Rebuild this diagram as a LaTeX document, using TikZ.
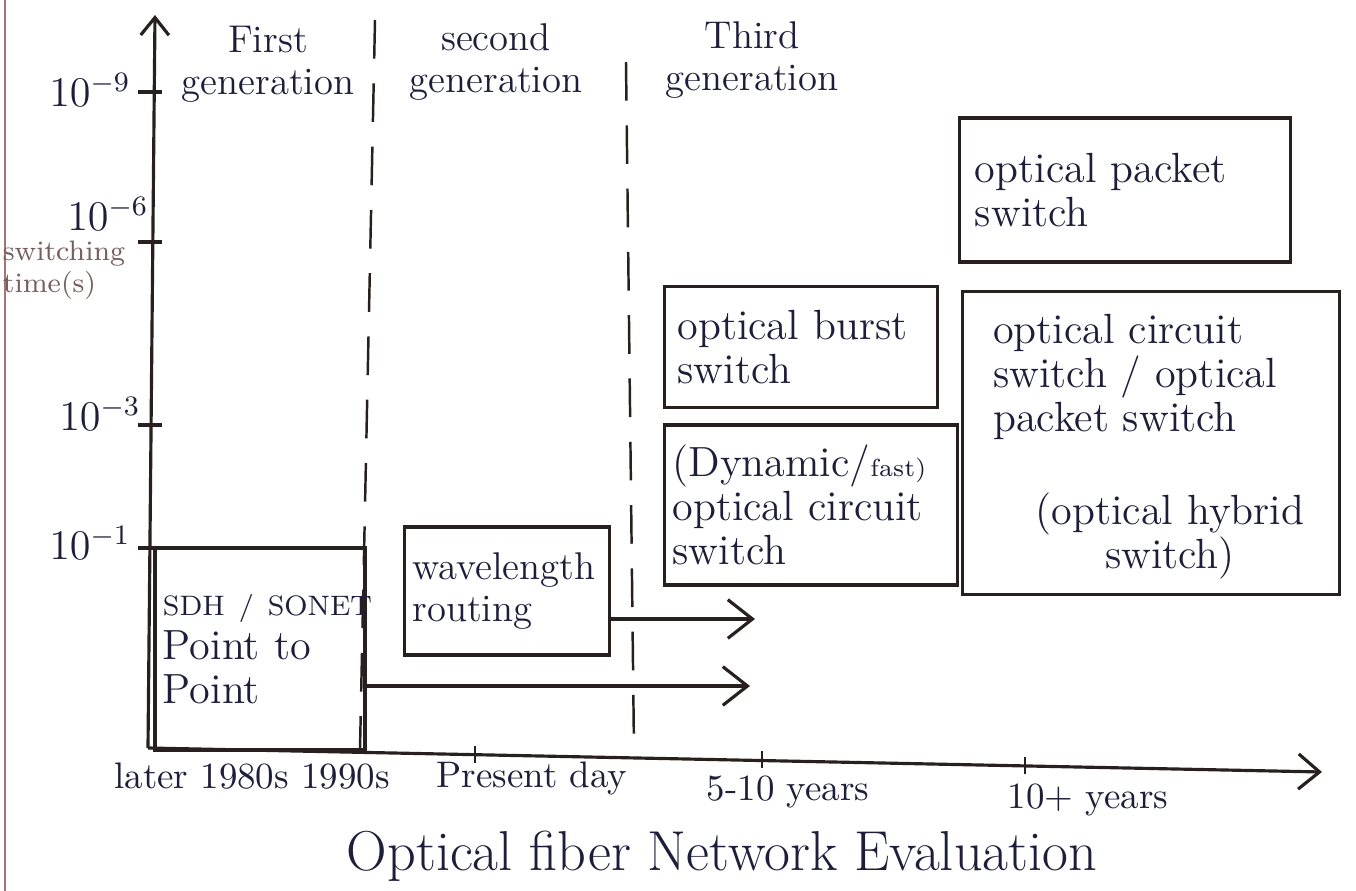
\documentclass[tikz,border=0pt]{standalone}
\usetikzlibrary{arrows.meta,positioning}
\definecolor{ink}{RGB}{40,32,30}
\definecolor{pen}{RGB}{30,30,58}
\definecolor{faded}{RGB}{120,95,95}
\definecolor{margin}{RGB}{170,115,115}
\newcommand{\penfont}{\fontsize{12}{12.5}\selectfont}
\newcommand{\smallpen}{\fontsize{10.5}{11}\selectfont}
\tikzset{
  box/.style={draw=ink, line width=0.9pt, text=pen, font=\penfont, align=left, inner xsep=0.13cm},
  lbl/.style={text=pen, font=\penfont, align=center},
  genline/.style={draw=ink, line width=0.7pt, dash pattern=on 11pt off 7pt},
  axis/.style={draw=ink, line width=0.9pt},
  tip/.style={draw=ink, line width=0.9pt, -{Straight Barb[length=7pt,width=11pt]}}
}
\begin{document}
\begin{tikzpicture}[x=0.01cm, y=-0.01cm]
  \useasboundingbox (0,0) rectangle (1356,891);
  \fill[white] (0,0) rectangle (1356,891);
  \draw[margin, line width=0.8pt] (5,0) -- (5,891);

  % Axes
  \coordinate (O) at (148,748);
  \coordinate (ytop) at (155,15);
  \coordinate (xend) at (1322,772);
  \draw[axis, -{Straight Barb[length=5pt,width=8pt]}] (O) -- (ytop);
  \draw[axis, -{Straight Barb[length=6pt,width=10pt]}] (O) -- (xend);
  \foreach \ty in {92,242,425,548}
    \draw[axis] (138,\ty) -- (162,\ty);
  \foreach \tx/\tyy in {475/755,762/760,1025/766}
    \draw[axis, line width=0.6pt] (\tx,\tyy-9) -- (\tx,\tyy+8);

  % Generation borders
  \draw[genline] (375,20) -- (360,750);
  \draw[genline] (626,62) -- (634,750);

  % Axis labels
  \node[lbl] (t9) at (90,90) {$10^{-9}$};
  \node[lbl] (t6) at (108,214) {$10^{-6}$};
  \node[lbl] (t3) at (100,414) {$10^{-3}$};
  \node[lbl] (t1) at (90,543) {$10^{-1}$};
  \node[lbl, text=faded, font=\fontsize{8}{9}\selectfont, align=left] (ylabel) at (64,270) {switching\\time(s)};
  \node[lbl, font=\smallpen] (era1) at (252,776) {later 1980s 1990s};
  \node[lbl, font=\smallpen] (era2) at (532,778) {Present day};
  \node[lbl, font=\smallpen] (era3) at (788,792) {5-10 years};
  \node[lbl, font=\smallpen] (era4) at (1088,800) {10+ years};
  \node[lbl, font=\fontsize{16}{17}\selectfont] (title) at (722,856) {Optical\ fiber\ Network\ Evaluation};

  % Generations
  \node[lbl, font=\fontsize{11}{12}\selectfont] (gen1) at (268,64) {First\\generation};
  \node[lbl, font=\fontsize{11}{12}\selectfont] (gen2) at (496,62) {second\\generation};
  \node[lbl, font=\fontsize{11}{12}\selectfont] (gen3) at (752,60) {Third\\generation};

  % Boxes
  \node[box, inner xsep=0.08cm, text width=1.94cm, minimum height=2.02cm] (sdh) at (260,649)
    {{\fontsize{8}{9}\selectfont SDH~/~SONET}\\Point to\\Point};
  \node[box, inner xsep=0.08cm, text width=1.89cm, minimum height=1.28cm, font=\fontsize{11}{12}\selectfont] (wave) at (507,591)
    {wavelength\\routing};
  \node[box, text width=2.47cm, minimum height=1.21cm] (burst) at (801,347)
    {optical burst\\switch};
  \node[box, inner xsep=0.08cm, text width=2.77cm, minimum height=1.60cm] (dyn) at (811,505)
    {(Dynamic/{\fontsize{7}{8}\selectfont fast)}\\optical circuit\\switch};
  \node[box, inner xsep=0.15cm, text width=3.00cm, minimum height=1.44cm] (packet) at (1125,190)
    {optical packet\\switch};
  \node[box, minimum width=3.77cm, minimum height=3.03cm] (hybrid) at (1151,443) {};
  \node[lbl, align=left, anchor=north west] (hybridtop) at ([xshift=0.2cm, yshift=-0.12cm]hybrid.north west)
    {optical circuit\\switch / optical\\packet switch};
  \node[lbl] (hybridnote) at (1170,536) {(optical hybrid\\switch)};

  % Arrows
  \coordinate (sdhend) at (750,686);
  \coordinate (waveend) at (755,619);
  \draw[tip] (sdh.east |- sdhend) -- (sdhend);
  \draw[tip] (wave.east |- waveend) -- (waveend);
\end{tikzpicture}
\end{document}
